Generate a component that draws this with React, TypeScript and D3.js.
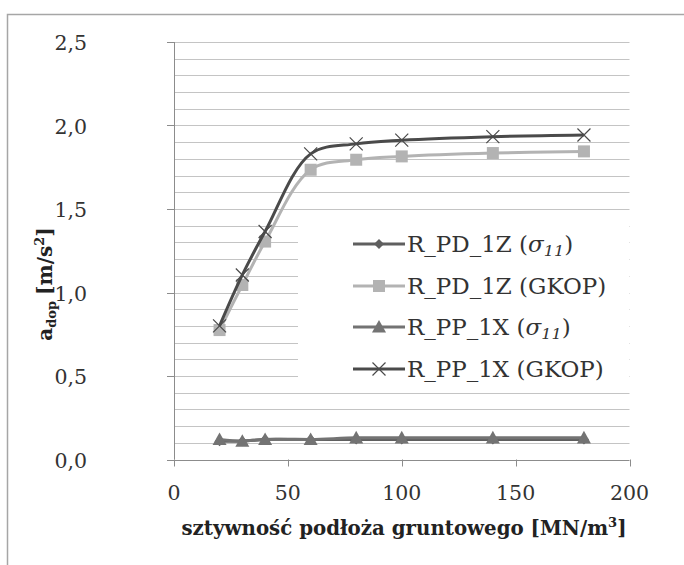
import React from "react";
import * as d3 from "d3";

const stiffness = [20, 30, 40, 60, 80, 100, 140, 180];
const pd1zSigma = [0.11, 0.11, 0.12, 0.12, 0.12, 0.12, 0.12, 0.12];
const pd1zGkop = [0.775, 1.045, 1.305, 1.735, 1.795, 1.815, 1.835, 1.845];
const pp1xSigma = [0.12, 0.11, 0.12, 0.12, 0.13, 0.13, 0.13, 0.13];
const pp1xGkop = [0.8, 1.105, 1.365, 1.83, 1.89, 1.912, 1.933, 1.943];
const xTicks = [0, 50, 100, 150, 200];
const yTicks = [0, 0.5, 1.0, 1.5, 2.0, 2.5];
const yTickLabels = ["0,0", "0,5", "1,0", "1,5", "2,0", "2,5"];
const seriesNames = ["R_PD_1Z", "R_PD_1Z", "R_PP_1X", "R_PP_1X"];
const seriesTags = ["σ", "GKOP", "σ", "GKOP"];

const W = 684;
const H = 565;
const x = d3.scaleLinear().domain([0, 200]).range([174, 629.5]);
const y = d3.scaleLinear().domain([0, 2.5]).range([459.5, 42]);

const FONT = "'DejaVu Serif', serif";

type Series = { values: number[]; color: string; width: number; marker: string };
const series: Series[] = [
  { values: pd1zSigma, color: "#5f5f5f", width: 3, marker: "diamond" },
  { values: pd1zGkop, color: "#b3b3b3", width: 3, marker: "square" },
  { values: pp1xSigma, color: "#737373", width: 3, marker: "triangle" },
  { values: pp1xGkop, color: "#4a4a4a", width: 3, marker: "x" },
];

function Marker({ kind, cx, cy, color }: { kind: string; cx: number; cy: number; color: string }) {
  if (kind === "diamond") {
    const s = 5;
    return <path d={`M${cx},${cy - s}L${cx + s},${cy}L${cx},${cy + s}L${cx - s},${cy}Z`} fill={color} />;
  }
  if (kind === "square") {
    const s = 6;
    return <rect x={cx - s} y={cy - s} width={2 * s} height={2 * s} fill={color} />;
  }
  if (kind === "triangle") {
    const s = 7;
    return <path d={`M${cx},${cy - s}L${cx + s},${cy + s * 0.8}L${cx - s},${cy + s * 0.8}Z`} fill={color} />;
  }
  const s = 6.5;
  return (
    <path
      d={`M${cx - s},${cy - s}L${cx + s},${cy + s}M${cx - s},${cy + s}L${cx + s},${cy - s}`}
      stroke={color}
      strokeWidth={1.2}
      fill="none"
    />
  );
}

export default function App() {
  const line = d3
    .line<number>()
    .x((_, i) => x(stiffness[i]))
    .y((d) => y(d))
    .curve(d3.curveCatmullRom.alpha(0.5));

  const minor: number[] = [];
  for (let v = 0.1; v <= 2.5001; v += 0.1) minor.push(Math.round(v * 10) / 10);

  const legendX0 = 353;
  const legendX1 = 405;
  const legendYs = [244, 286, 327, 369];
  const ts = { fontFamily: FONT };

  return (
    <svg
      width={W}
      height={H}
      style={{ position: "absolute", left: 0, top: 0, background: "#fff", fontFamily: FONT }}
    >
      <rect x={0} y={0} width={W} height={H} fill="#fff" />
      <rect x={7.5} y={14.5} width={720} height={600} fill="none" stroke="#a6a6a6" strokeWidth={1.5} />

      {minor.map((v) => (
        <line key={v} x1={x(0)} x2={x(200)} y1={Math.round(y(v)) + 0.5} y2={Math.round(y(v)) + 0.5} stroke="#c4c4c4" strokeWidth={1} />
      ))}

      <line x1={x(0) + 0.5} x2={x(0) + 0.5} y1={y(2.5)} y2={y(0)} stroke="#8c8c8c" strokeWidth={1} />
      <line x1={167} x2={x(200)} y1={Math.round(y(0)) + 0.5} y2={Math.round(y(0)) + 0.5} stroke="#8c8c8c" strokeWidth={1} />
      {yTicks.map((v) => (
        <line key={v} x1={167} x2={174} y1={Math.round(y(v)) + 0.5} y2={Math.round(y(v)) + 0.5} stroke="#8c8c8c" />
      ))}
      {xTicks.map((v) => (
        <line key={v} x1={Math.round(x(v)) + 0.5} x2={Math.round(x(v)) + 0.5} y1={y(0)} y2={y(0) + 7} stroke="#8c8c8c" />
      ))}

      {yTicks.map((v, i) => (
        <text key={v} x={87} y={y(v) + 8} textAnchor="end" fontSize={20.5} fill="#333" style={ts}>
          {yTickLabels[i]}
        </text>
      ))}
      {xTicks.map((v) => (
        <text key={v} x={x(v)} y={500} textAnchor="middle" fontSize={20.5} fill="#333" style={ts}>
          {v}
        </text>
      ))}

      <text x={404} y={535} textAnchor="middle" fontSize={19.8} fontWeight="bold" fill="#222" style={ts}>
        sztywność podłoża gruntowego [MN/m<tspan dy={-8} fontSize={13}>3</tspan>
        <tspan dy={8}>]</tspan>
      </text>
      <text transform="translate(52,284) rotate(-90)" textAnchor="middle" fontSize={20} fontWeight="bold" fill="#222" style={ts}>
        a<tspan dy={4} fontSize={13}>dop</tspan>
        <tspan dy={-4} dx={6}>[m/s</tspan>
        <tspan dy={-8} fontSize={13}>2</tspan>
        <tspan dy={8}>]</tspan>
      </text>

      {series.map((s, si) => (
        <g key={si}>
          <path d={line(s.values) || ""} fill="none" stroke={s.color} strokeWidth={s.width} />
          {s.values.map((v, i) => (
            <Marker key={i} kind={s.marker} cx={x(stiffness[i])} cy={y(v)} color={s.color} />
          ))}
        </g>
      ))}

      <rect x={298} y={211} width={331} height={172} fill="#fff" />
      {series.map((s, i) => (
        <g key={i}>
          <line x1={legendX0} x2={legendX1} y1={legendYs[i]} y2={legendYs[i]} stroke={s.color} strokeWidth={3} />
          <Marker kind={s.marker} cx={(legendX0 + legendX1) / 2} cy={legendYs[i]} color={s.color} />
          <text
            transform={`translate(${legendX1 + 2},${legendYs[i] + 8}) scale(1.07,1)`}
            fontSize={21.5}
            fill="#333"
            style={ts}
          >
            {seriesNames[i]} (
            {seriesTags[i] === "σ" ? (
              <>
                <tspan fontStyle="italic">σ</tspan>
                <tspan fontStyle="italic" fontSize={15} dy={4}>11</tspan>
                <tspan dy={-4}>)</tspan>
              </>
            ) : (
              <>{seriesTags[i]})</>
            )}
          </text>
        </g>
      ))}
    </svg>
  );
}
